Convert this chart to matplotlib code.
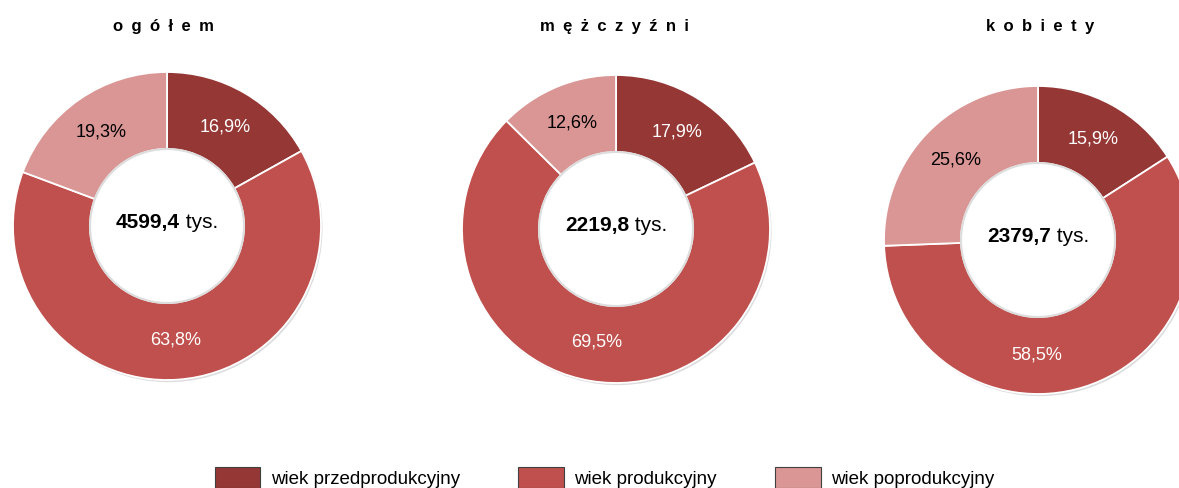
import numpy as np
import matplotlib.pyplot as plt
from matplotlib.patches import Patch, Circle

plt.rcParams['font.family'] = ['Liberation Sans', 'DejaVu Sans']

titles = ["o g ó ł e m", "m ę ż c z y ź n i", "k o b i e t y"]
totals = ["4599,4", "2219,8", "2379,7"]
groups = ["wiek przedprodukcyjny", "wiek produkcyjny", "wiek poprodukcyjny"]
ogolem = [16.9, 63.8, 19.3]
mezczyzni = [17.9, 69.5, 12.6]
kobiety = [15.9, 58.5, 25.6]
shares = [ogolem, mezczyzni, kobiety]

colors = ["#953735", "#C0504D", "#D99694"]
label_colors = ["white", "white", "black"]

W, H = 1179, 488
fig = plt.figure(figsize=(W / 100, H / 100), dpi=100)

# donut centres in pixels (x, y from top), radius in pixels
centres = [(167, 226), (616, 229), (1038, 240)]
R = 154
title_x = [163, 614, 1040]
LIM = 1.03
# the 58,5% label was moved by hand in the original, straight below the centre
label_angle_fix = {(2, 1): -90.5}

for i, vals in enumerate(shares):
    cx, cy = centres[i]
    ax = fig.add_axes([(cx - R * LIM) / W, (H - cy - R * LIM) / H, 2 * R * LIM / W, 2 * R * LIM / H])
    # faint shadow
    ax.add_patch(Circle((0.01, -0.014), 1.0, color='#bbbbbb', alpha=0.5, lw=0, zorder=0))
    wedges, _ = ax.pie(vals, colors=colors, startangle=90, counterclock=False,
                       radius=1.0, wedgeprops=dict(width=0.5, edgecolor='white', linewidth=1.3))
    ax.add_patch(Circle((0, 0), 0.5, facecolor='white', edgecolor='#dddddd', lw=1.5, zorder=3))
    ax.set_xlim(-LIM, LIM)
    ax.set_ylim(-LIM, LIM)
    ax.set_aspect('equal')
    ax.axis('off')
    for j, (w, v, tc) in enumerate(zip(wedges, vals, label_colors)):
        ang = label_angle_fix.get((i, j), (w.theta1 + w.theta2) / 2)
        ang = np.deg2rad(ang)
        ax.text(0.745 * np.cos(ang), 0.745 * np.sin(ang), f"{v:.1f}%".replace('.', ','),
                ha='center', va='center', fontsize=13, color=tc, zorder=4)

    fig.text(title_x[i] / W, 1 - 27 / H, titles[i].replace(' ', '\u2002'), ha='center', va='center',
             fontsize=12, fontweight='bold')

    # centre label: bold number + normal "tys."
    renderer = fig.canvas.get_renderer()
    t1 = ax.text(0, 0.02, totals[i], fontsize=15, fontweight='bold', ha='left', va='center', zorder=5)
    t2 = ax.text(0, 0.02, " tys.", fontsize=15, ha='left', va='center', zorder=5)
    w1 = t1.get_window_extent(renderer).width
    w2 = t2.get_window_extent(renderer).width
    scale = 1.0 / R
    x0 = -(w1 + w2) / 2 * scale
    t1.set_x(x0)
    t2.set_x(x0 + w1 * scale)

handles = [Patch(facecolor=c, edgecolor='#404040', linewidth=0.8) for c in colors]
fig.legend(handles, groups, loc='lower center', bbox_to_anchor=(0.5127, -0.035), ncol=3,
           frameon=False, fontsize=13.5, handlelength=2.45, handleheight=1.4,
           handletextpad=0.55, columnspacing=3.1)

fig.savefig("out.png", dpi=100)
